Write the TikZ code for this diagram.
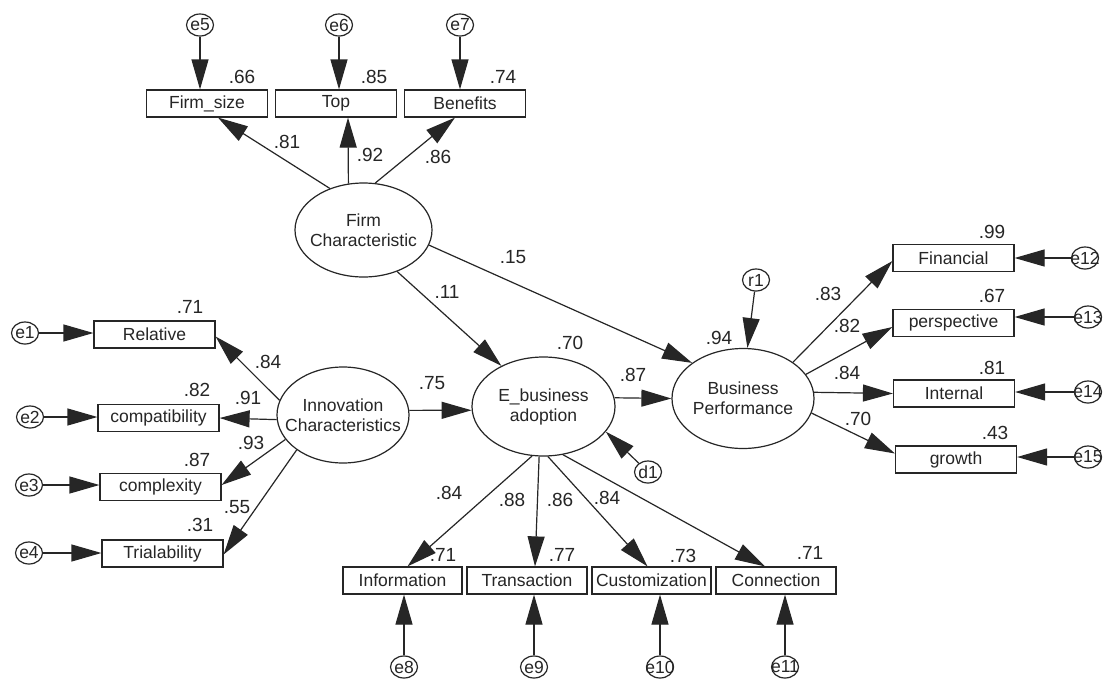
\documentclass[tikz,border=0pt]{standalone}
\usepackage{fontspec}
\setmainfont{Liberation Sans}
\usetikzlibrary{arrows.meta,shapes.geometric}
\newcommand\bfnt{\fontsize{17.5}{20}\selectfont}
\newcommand\nfnt{\fontsize{19}{22}\selectfont}
\begin{document}
\begin{tikzpicture}[x=1pt,y=-1pt,line width=1.2pt,color=black!85,
  box/.style={draw,rectangle,minimum width=121pt,minimum height=27pt,inner sep=0pt,font=\bfnt},
  lat/.style={draw,ellipse,inner sep=0pt},
  lattext/.style={font=\bfnt,align=center,inner sep=0pt},
  err/.style={draw,ellipse,minimum width=27pt,minimum height=22pt,inner sep=0pt,font=\bfnt},
  num/.style={font=\nfnt,inner sep=0pt},
  arr/.style={-{Triangle[length=30pt,width=17pt]}}]
\fill[white] (0,0) rectangle (1105,680);
\useasboundingbox (0,0) rectangle (1105,680);
% top indicators
\node[box] (fs) at (207,103.5) {Firm\_size};
\node[box] (top) at (336,103.5) {Top};
\node[box] (ben) at (465,103.5) {Benefits};
\node[err] (e5) at (200,25) {\makebox[0pt]{e5}};
\node[err] (e6) at (339,25) {\makebox[0pt]{e6}};
\node[err] (e7) at (460,25) {\makebox[0pt]{e7}};
% latent
\node[lat,minimum width=137pt,minimum height=94pt,label={[lattext]center:Firm\\Characteristic}] (fc) at (363.5,230) {};
\node[lat,minimum width=132pt,minimum height=96pt,label={[lattext]center:Innovation\\Characteristics}] (ic) at (343,415) {};
\node[lat,minimum width=143pt,minimum height=99pt,label={[lattext]center:E\_business\\adoption}] (eb) at (543.5,406.5) {};
\node[lat,minimum width=142pt,minimum height=100pt,label={[lattext]center:Business\\Performance}] (bp) at (743,398.5) {};
% left
\node[box] (rel) at (154.5,334.5) {Relative};
\node[box] (comp) at (158.5,418) {compatibility};
\node[box] (cplx) at (160.5,487) {complexity};
\node[box] (tri) at (162.5,553.5) {Trialability};
\node[err] (e1) at (25,333) {\makebox[0pt]{e1}};
\node[err] (e2) at (30,417) {\makebox[0pt]{e2}};
\node[err] (e3) at (29,485) {\makebox[0pt]{e3}};
\node[err] (e4) at (29,553) {\makebox[0pt]{e4}};
% right
\node[box] (fin) at (953.5,258) {Financial};
\node[box] (per) at (953.5,323) {perspective};
\node[box] (int) at (954,393.5) {Internal};
\node[box] (gro) at (956,459.5) {growth};
\node[err] (e12) at (1085,258) {\makebox[0pt]{e12}};
\node[err] (e13) at (1088,317) {\makebox[0pt]{e13}};
\node[err] (e14) at (1088,392) {\makebox[0pt]{e14}};
\node[err] (e15) at (1088,457) {\makebox[0pt]{e15}};
\node[err] (r1) at (756,280) {\makebox[0pt]{r1}};
\node[err] (d1) at (648,472) {\makebox[0pt]{d1}};
% bottom
\node[box,minimum width=119pt] (info) at (402.5,580.5) {Information};
\node[box,minimum width=120pt] (tra) at (527,580.5) {Transaction};
\node[box,minimum width=119pt] (cus) at (651.5,580.5) {Customization};
\node[box,minimum width=120pt] (con) at (776,580.5) {Connection};
\node[err] (e8) at (404,667) {\makebox[0pt]{e8}};
\node[err] (e9) at (534,667) {\makebox[0pt]{e9}};
\node[err] (e10) at (660,667) {\makebox[0pt]{e10}};
\node[err] (e11) at (785,667) {\makebox[0pt]{e11}};
% connectors top
\draw[arr] (fc.129) -- ([xshift=11pt]fs.south);
\draw[arr] (fc.108) -- ([xshift=12pt]top.south);
\draw[arr] (fc.76) -- ([xshift=-10pt]ben.south);
\draw[arr] (e5) -- (e5 |- fs.north);
\draw[arr] (e6) -- (e6 |- top.north);
\draw[arr] (e7) -- (e7 |- ben.north);
% left
\draw[arr] (ic.167) -- ([yshift=-2pt]rel.east);
\draw[arr] (ic.184) -- (comp.east);
\draw[arr] (ic.203) -- ([yshift=2pt]cplx.east);
\draw[arr] (ic.217) -- ([yshift=-1pt]tri.east);
\draw[arr] (e1) -- (e1 -| rel.west);
\draw[arr] (e2) -- (e2 -| comp.west);
\draw[arr] (e3) -- (e3 -| cplx.west);
\draw[arr] (e4) -- (e4 -| tri.west);
% structural
\draw[arr] (fc.-51) -- (eb.136);
\draw[arr] (fc.-13) -- (bp.145);
\draw[arr] (ic.4) -- (eb.183);
\draw[arr] (eb.7) -- (bp.180);
\draw[arr] (r1) -- (bp.85);
\draw[arr] (d1) -- (eb.-22);
% right
\draw[arr] (bp.36) -- ([yshift=-3pt]fin.west);
\draw[arr] (bp.21) -- ([yshift=-4pt]per.west);
\draw[arr] (bp.5) -- (int.west);
\draw[arr] (bp.-12) -- ([yshift=6pt]gro.west);
\draw[arr] (e12) -- (e12 -| fin.east);
\draw[arr] (e13) -- (e13 -| per.east);
\draw[arr] (e14) -- (e14 -| int.east);
\draw[arr] (e15) -- (e15 -| gro.east);
% bottom
\draw[arr] (eb.-103) -- ([xshift=5pt]info.north);
\draw[arr] (eb.-95) -- ([xshift=8pt]tra.north);
\draw[arr] (eb.-85) -- ([xshift=-4pt]cus.north);
\draw[arr] (eb.-68) -- ([xshift=-11pt]con.north);
\draw[arr] (e8) -- (e8 |- info.south);
\draw[arr] (e9) -- (e9 |- tra.south);
\draw[arr] (e10) -- (e10 |- cus.south);
\draw[arr] (e11) -- (e11 |- con.south);
% numbers
\node[num] (n1) at (242,77) {.66};
\node[num] (n2) at (374,77) {.85};
\node[num] (n3) at (503,77) {.74};
\node[num] (n4) at (287,142) {.81};
\node[num] (n5) at (370,155) {.92};
\node[num] (n6) at (438,157) {.86};
\node[num] (n7) at (513,257) {.15};
\node[num] (n8) at (447,292) {.11};
\node[num] (n9) at (570,343) {.70};
\node[num] (n10) at (633,375) {.87};
\node[num] (n11) at (432,383) {.75};
\node[num] (n12) at (719,338) {.94};
\node[num] (n13) at (190,307) {.71};
\node[num] (n14) at (268,362) {.84};
\node[num] (n15) at (197,390) {.82};
\node[num] (n16) at (248,398) {.91};
\node[num] (n17) at (251,443) {.93};
\node[num] (n18) at (197,460) {.87};
\node[num] (n19) at (237,507) {.55};
\node[num] (n20) at (200,525) {.31};
\node[num] (n21) at (992,232) {.99};
\node[num] (n22) at (992,296) {.67};
\node[num] (n23) at (992,368) {.81};
\node[num] (n24) at (995,433) {.43};
\node[num] (n25) at (828,294) {.83};
\node[num] (n26) at (847,326) {.82};
\node[num] (n27) at (847,373) {.84};
\node[num] (n28) at (858,419) {.70};
\node[num] (n29) at (449,493) {.84};
\node[num] (n30) at (512,500) {.88};
\node[num] (n31) at (560,500) {.86};
\node[num] (n32) at (607,498) {.84};
\node[num] (n33) at (443,555) {.71};
\node[num] (n34) at (562,555) {.77};
\node[num] (n35) at (683,556) {.73};
\node[num] (n36) at (810,553) {.71};
\end{tikzpicture}
\end{document}
